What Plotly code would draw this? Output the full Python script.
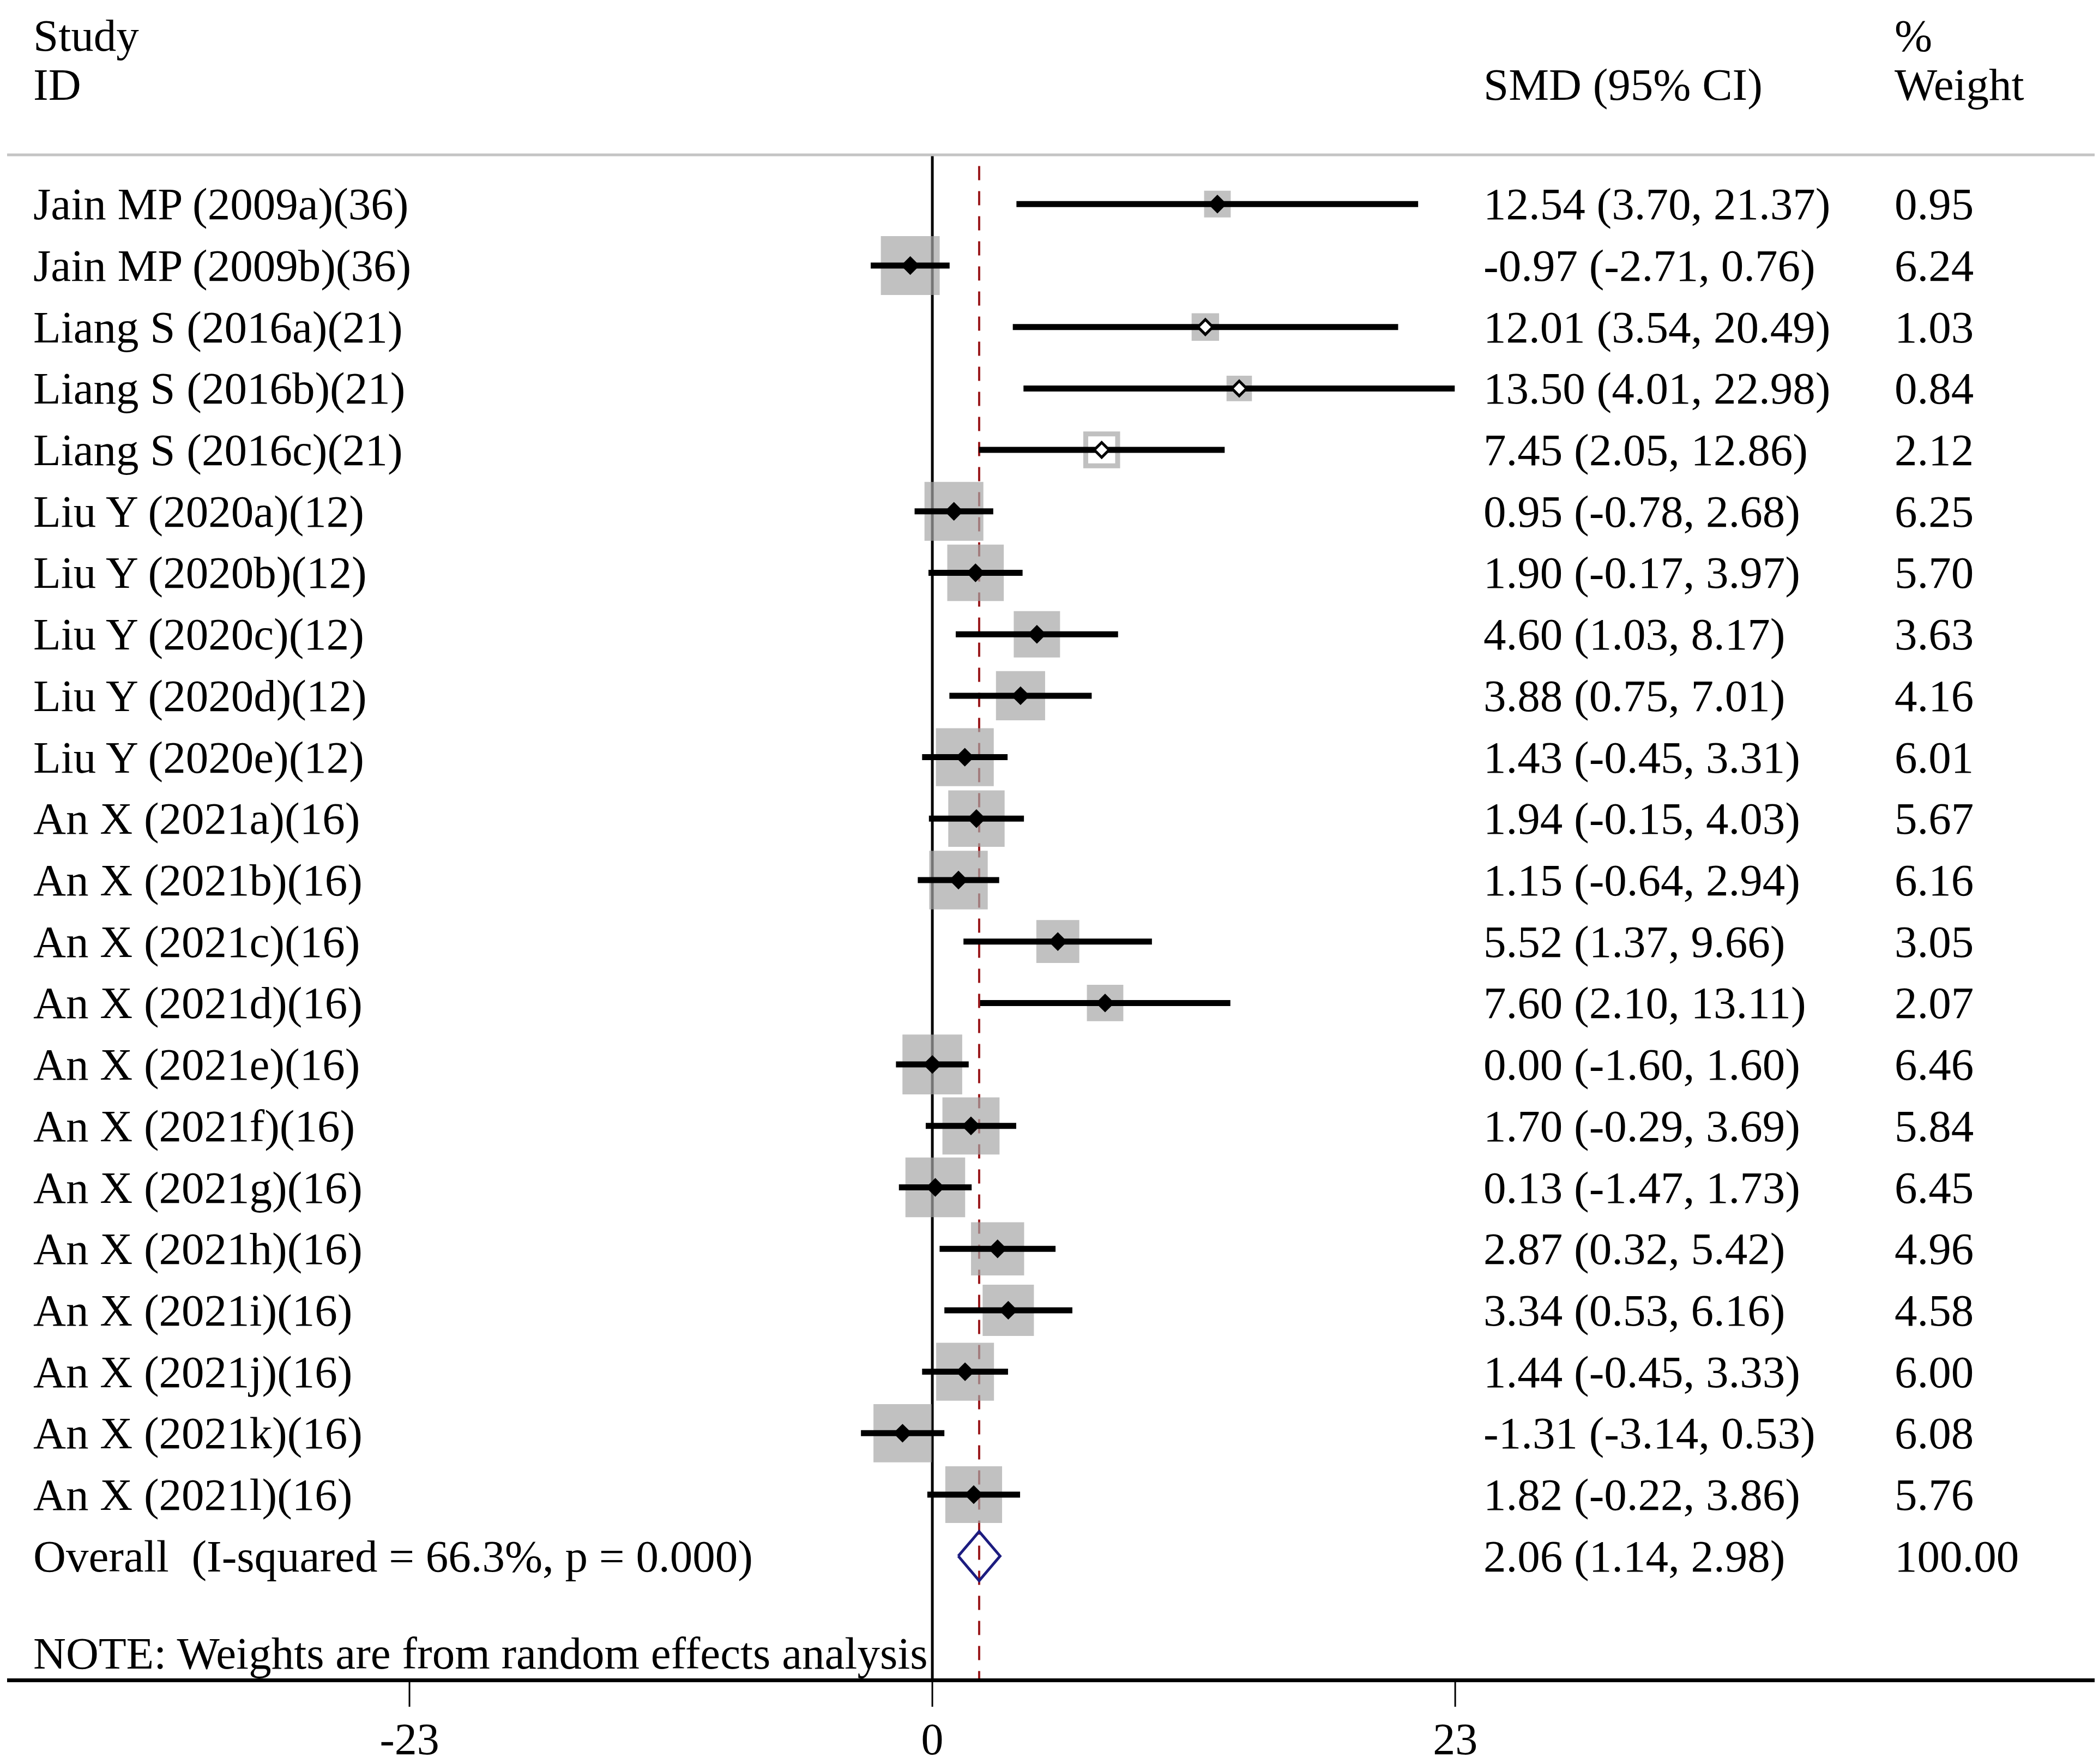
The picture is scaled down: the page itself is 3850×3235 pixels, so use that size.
import plotly.graph_objects as go
import numpy as np

# forest plot data (SMD, 95% CI, % weight)
studies = ["Jain MP (2009a)(36)", "Jain MP (2009b)(36)", "Liang S (2016a)(21)",
           "Liang S (2016b)(21)", "Liang S (2016c)(21)", "Liu Y (2020a)(12)",
           "Liu Y (2020b)(12)", "Liu Y (2020c)(12)", "Liu Y (2020d)(12)",
           "Liu Y (2020e)(12)", "An X (2021a)(16)", "An X (2021b)(16)",
           "An X (2021c)(16)", "An X (2021d)(16)", "An X (2021e)(16)",
           "An X (2021f)(16)", "An X (2021g)(16)", "An X (2021h)(16)",
           "An X (2021i)(16)", "An X (2021j)(16)", "An X (2021k)(16)",
           "An X (2021l)(16)"]
smd = [12.54, -0.97, 12.01, 13.50, 7.45, 0.95, 1.90, 4.60, 3.88, 1.43, 1.94,
       1.15, 5.52, 7.60, 0.00, 1.70, 0.13, 2.87, 3.34, 1.44, -1.31, 1.82]
ci_low = [3.70, -2.71, 3.54, 4.01, 2.05, -0.78, -0.17, 1.03, 0.75, -0.45, -0.15,
          -0.64, 1.37, 2.10, -1.60, -0.29, -1.47, 0.32, 0.53, -0.45, -3.14, -0.22]
ci_high = [21.37, 0.76, 20.49, 22.98, 12.86, 2.68, 3.97, 8.17, 7.01, 3.31, 4.03,
           2.94, 9.66, 13.11, 1.60, 3.69, 1.73, 5.42, 6.16, 3.33, 0.53, 3.86]
weights = [0.95, 6.24, 1.03, 0.84, 2.12, 6.25, 5.70, 3.63, 4.16, 6.01, 5.67,
           6.16, 3.05, 2.07, 6.46, 5.84, 6.45, 4.96, 4.58, 6.00, 6.08, 5.76]

overall_label = "Overall"
overall_het = "(I-squared = 66.3%, p = 0.000)"
overall_smd = 2.06
overall_low = 1.14
overall_high = 2.98
overall_weight = 100.00

x_ticks = [-23, 0, 23]
x_tick_text = ["-23", "0", "23"]
note = "NOTE: Weights are from random effects analysis"

FONT = "Liberation Serif"
FS = 83
GRAY = "#A6A6A6"
PLOT_H = 3070  # plot area height in px

rows = np.arange(len(studies))
overall_row = len(studies)
y_bottom = 23.99
y_top = -3.25
header_line = -0.8

fig = go.Figure()

# reference lines (behind boxes)
fig.add_trace(go.Scatter(x=[0, 0], y=[header_line, y_bottom], mode="lines",
                         line=dict(color="black", width=5), hoverinfo="skip"))
fig.add_trace(go.Scatter(x=[overall_smd, overall_smd], y=[-0.62, y_bottom], mode="lines",
                         line=dict(color="#9B1B1E", width=4, dash="26px,20px"),
                         hoverinfo="skip"))

# weight boxes (size grows with weight)
box_side = 11 + 38.8 * np.sqrt(np.array(weights))
hollow_box = [4]
box_line = [9 if i in hollow_box else 0 for i in rows]
fig.add_trace(go.Scatter(
    x=smd, y=rows, mode="markers",
    marker=dict(symbol="square", size=box_side - np.array(box_line),
                color=["white" if i in hollow_box else GRAY for i in rows],
                line=dict(color=GRAY, width=box_line)),
    hoverinfo="skip"))

# confidence intervals
xs, ys = [], []
for r, lo, hi in zip(rows, ci_low, ci_high):
    xs += [lo, hi, None]
    ys += [r, r, None]
fig.add_trace(go.Scatter(x=xs, y=ys, mode="lines",
                         line=dict(color="black", width=11), hoverinfo="skip"))

# point estimates
hollow_pt = [2, 3, 4]
fig.add_trace(go.Scatter(
    x=smd, y=rows, mode="markers",
    marker=dict(symbol="diamond", size=21,
                color=["white" if i in hollow_pt else "black" for i in rows],
                line=dict(color="black", width=5)),
    hoverinfo="skip"))

# overall diamond
h = 0.4
fig.add_trace(go.Scatter(
    x=[overall_low, overall_smd, overall_high, overall_smd, overall_low],
    y=[overall_row, overall_row - h, overall_row, overall_row + h, overall_row],
    mode="lines", line=dict(color="#1C1C80", width=5), hoverinfo="skip"))

x_label = -39.6
x_est = 24.2
x_wt = 42.28

ann = []


def txt(x, y, s):
    ann.append(dict(x=x, y=y, xref="x", yref="y", text=s, showarrow=False,
                    xanchor="left", yanchor="middle",
                    font=dict(family=FONT, size=FS, color="black")))


txt(x_label, -2.74, "Study")
txt(x_label, -1.95, "ID")
txt(x_est, -1.95, "SMD (95% CI)")
txt(x_wt, -2.74, "%")
txt(x_wt, -1.95, "Weight")

for r in rows:
    txt(x_label, r, studies[r])
    txt(x_est, r, f"{smd[r]:.2f} ({ci_low[r]:.2f}, {ci_high[r]:.2f})")
    txt(x_wt, r, f"{weights[r]:.2f}")

txt(x_label, overall_row, overall_label + "\u00a0 " + overall_het)
txt(x_est, overall_row, f"{overall_smd:.2f} ({overall_low:.2f}, {overall_high:.2f})")
txt(x_wt, overall_row, f"{overall_weight:.2f}")
txt(x_label, 23.58, note)

shapes = [dict(type="line", xref="paper", yref="y", x0=0, x1=1,
               y0=header_line, y1=header_line,
               line=dict(color="#C4C4C4", width=5))]
# long tick marks below the axis
for v in x_ticks:
    shapes.append(dict(type="line", xref="x", yref="paper", x0=v, x1=v,
                       y0=0, y1=-52 / PLOT_H, line=dict(color="black", width=3)))

fig.update_layout(
    width=3850, height=3235,
    margin=dict(l=5, r=8, t=0, b=3235 - PLOT_H),
    paper_bgcolor="white", plot_bgcolor="white",
    showlegend=False,
    annotations=ann,
    shapes=shapes,
    xaxis=dict(range=[-40.7, 51.32], tickvals=x_ticks, ticktext=x_tick_text,
               ticks="outside", ticklen=34, tickwidth=1,
               tickcolor="rgba(0,0,0,0)",
               showline=True, linecolor="black", linewidth=7,
               showgrid=False, zeroline=False,
               tickfont=dict(family=FONT, size=82, color="black")),
    yaxis=dict(range=[y_bottom, y_top], visible=False),
)

fig.write_html("out.html")
